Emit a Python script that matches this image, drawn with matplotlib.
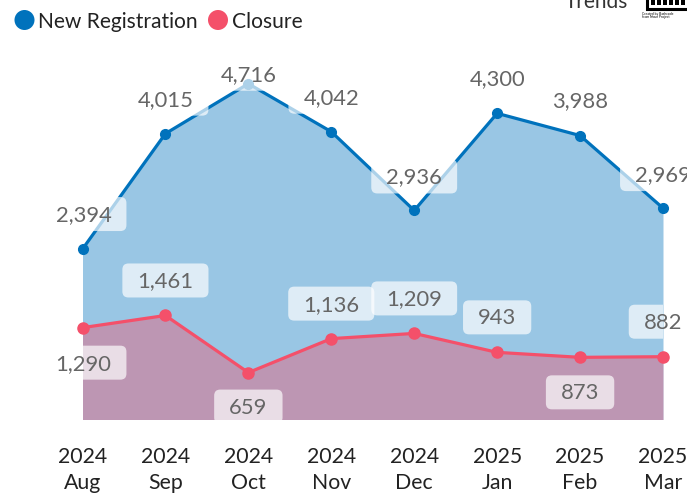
import matplotlib
matplotlib.use('Agg')
import matplotlib.pyplot as plt
from matplotlib.patches import FancyBboxPatch, Circle, Rectangle
from matplotlib.transforms import IdentityTransform

plt.rcParams['font.family'] = ['Lato', 'Open Sans', 'DejaVu Sans']

months = ['2024\nAug', '2024\nSep', '2024\nOct', '2024\nNov', '2024\nDec', '2025\nJan', '2025\nFeb', '2025\nMar']
new_reg = [2394, 4015, 4716, 4042, 2936, 4300, 3988, 2969]
closure = [1290, 1461, 659, 1136, 1209, 943, 873, 882]

# label offset from the point, in pixels (x right, y up)
new_offsets = [(1, 36), (0, 36), (0, 11), (0, 36), (0, 35), (0, 36), (0, 36), (0, 35)]
closure_offsets = [(1, -34), (0, 36), (0, -33), (0, 36), (0, 36), (0, 36), (0, -34), (0, 36)]

BLUE = '#0072BC'
RED = '#F4506A'
W, H = 687, 496
X0, X1, BASE = 82.5, 663, 419.5
PX_PER_UNIT = 0.0712

fig = plt.figure(figsize=(W / 100, H / 100), dpi=100, facecolor='white')
ax = fig.add_axes([X0 / W, (H - BASE) / H, (X1 - X0) / W, BASE / H])
ax.set_xlim(0, len(months) - 1)
ax.set_ylim(0, BASE / PX_PER_UNIT)
for s in ax.spines.values():
    s.set_visible(False)
ax.set_yticks([])
xs = list(range(len(months)))
ax.set_xticks(xs, months, fontsize=15.3, color='#222222', linespacing=1.38)
ax.tick_params(axis='x', length=0, pad=20)
ax.patch.set_alpha(0)

ax.fill_between(xs, new_reg, 0, color=BLUE, alpha=0.4, lw=0, zorder=1)
ax.fill_between(xs, closure, 0, color=RED, alpha=0.4, lw=0, zorder=1.1)
ax.plot(xs, new_reg, color=BLUE, lw=2.3, marker='o', ms=7, clip_on=False, zorder=2)
ax.plot(xs, closure, color=RED, lw=2.3, marker='o', ms=8, clip_on=False, zorder=2)

fig.canvas.draw()
renderer = fig.canvas.get_renderer()


def add_label(x, y, off):
    # white rounded box behind the number, only visible over the fill
    px, py = ax.transData.transform((x, y))
    cx, cy = px + off[0], py + off[1]
    t = ax.text(cx, cy, f'{y:,}', transform=IdentityTransform(), fontsize=15.8, color='#666666',
                ha='center', va='center_baseline', zorder=5, clip_on=False)
    bb = t.get_window_extent(renderer)
    w = bb.width + 30
    h = 34
    box = FancyBboxPatch((cx - w / 2 + 6, cy - 1 - h / 2 + 6), w - 12, h - 12,
                         boxstyle='round,pad=6,rounding_size=6', transform=IdentityTransform(),
                         fc='white', ec='none', alpha=0.68, zorder=4, clip_on=True)
    box.set_clip_path(ax.patch)
    ax.add_patch(box)
    box.set_transform(IdentityTransform())


for x, v, off in zip(xs, new_reg, new_offsets):
    add_label(x, v, off)
for x, v, off in zip(xs, closure, closure_offsets):
    add_label(x, v, off)

# legend drawn by hand, figure coords in pixels
overlay = fig.add_axes([0, 0, 1, 1], facecolor='none')
overlay.set_xlim(0, W)
overlay.set_ylim(H, 0)
overlay.axis('off')
overlay.add_patch(Circle((24.5, 20), 10, fc=BLUE, ec='none'))
overlay.text(38, 21.5, 'New Registration', fontsize=15.1, color='#222222', va='center')
overlay.add_patch(Circle((218, 20), 10, fc=RED, ec='none'))
overlay.text(232, 21.5, 'Closure', fontsize=15.1, color='#222222', va='center')

# cut-off title and logo top right
overlay.text(596.5, 8, 'Trends', fontsize=15, color='#333333', ha='center', va='baseline')
overlay.add_patch(Rectangle((646.5, -4), 45, 13, fc='none', ec='black', lw=2.2))
for lx in (651, 657, 663, 669, 675, 681):
    overlay.add_patch(Rectangle((lx, 0), 4, 5, fc='black', ec='none'))
overlay.text(642, 14, 'Created by Bashcode', fontsize=2.4, color='black', va='center')
overlay.text(642, 17, 'from Noun Project', fontsize=2.4, color='black', va='center')

fig.savefig('out.png', dpi=100, facecolor='white')
